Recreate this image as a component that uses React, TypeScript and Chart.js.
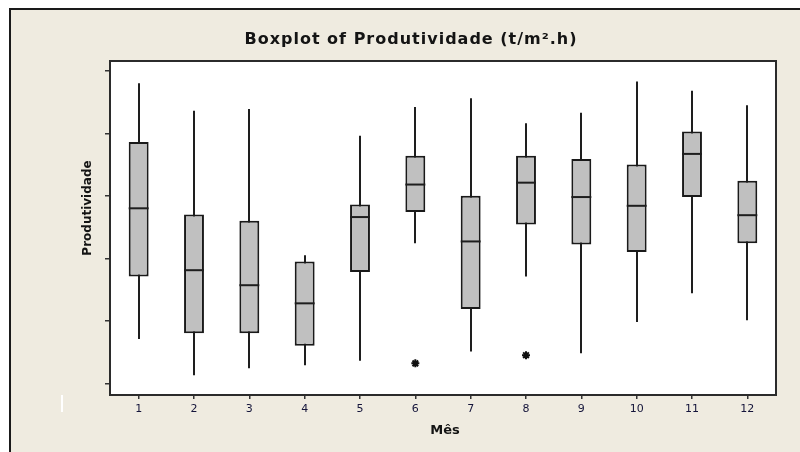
import React, { useEffect, useRef } from "react";
import { Chart, registerables } from "chart.js";

Chart.register(...registerables);

const months = ["1", "2", "3", "4", "5", "6", "7", "8", "9", "10", "11", "12"];
const whiskerHigh = [4.8, 4.36, 4.39, 2.05, 3.96, 4.42, 4.56, 4.16, 4.33, 4.83, 4.68, 4.45];
const q3 = [3.86, 2.7, 2.6, 1.95, 2.86, 3.64, 3.0, 3.64, 3.59, 3.5, 4.03, 3.24];
const medians = [2.8, 1.81, 1.57, 1.28, 2.66, 3.18, 2.27, 3.21, 2.98, 2.84, 3.67, 2.69];
const q1 = [1.71, 0.8, 0.8, 0.6, 1.78, 2.74, 1.19, 2.54, 2.22, 2.1, 2.98, 2.24];
const whiskerLow = [0.71, 0.13, 0.24, 0.29, 0.36, 2.24, 0.51, 1.71, 0.48, 0.98, 1.44, 1.01];
const outliers: (number | null)[] = [null, null, null, null, null, 0.32, null, 0.45, null, null, null, null];
const yTicks = [0, 1, 2, 3, 4, 5];
const yMin = -0.17;
const yMax = 5.14;

const chartTitle = "Boxplot of Produtividade (t/m².h)";
const xTitle = "Mês";
const yTitle = "Produtividade";

const FONT = "'DejaVu Sans', Tahoma, sans-serif";

const boxPlugin = {
  id: "boxDecor",
  beforeDraw(chart: any) {
    const { ctx, width, height, chartArea: a } = chart;
    ctx.save();
    ctx.fillStyle = "#ffffff";
    ctx.fillRect(0, 0, width, height);
    ctx.fillStyle = "#EFEBE0";
    ctx.fillRect(9, 8, width - 9, height - 8);
    ctx.fillStyle = "#1a1a1a";
    ctx.fillRect(9, 8, 2, height - 8);
    ctx.fillRect(9, 8, width - 9, 2);
    ctx.fillStyle = "#ffffff";
    ctx.fillRect(a.left, a.top, a.right - a.left, a.bottom - a.top);
    ctx.fillRect(61, 395, 2, 17);
    ctx.restore();
  },
  beforeDatasetsDraw(chart: any) {
    const { ctx } = chart;
    const xs = chart.scales.x;
    const ys = chart.scales.y;
    ctx.save();
    ctx.strokeStyle = "#1e1e1e";
    ctx.lineWidth = 2;
    for (let i = 0; i < months.length; i++) {
      const px = Math.round(xs.getPixelForValue(i));
      ctx.beginPath();
      ctx.moveTo(px, ys.getPixelForValue(whiskerHigh[i]));
      ctx.lineTo(px, ys.getPixelForValue(whiskerLow[i]));
      ctx.stroke();
    }
    ctx.restore();
  },
  afterDatasetsDraw(chart: any) {
    const { ctx, chartArea: a } = chart;
    const ys = chart.scales.y;
    const meta = chart.getDatasetMeta(0);
    ctx.save();
    ctx.strokeStyle = "#1e1e1e";
    ctx.lineWidth = 2;
    meta.data.forEach((bar: any, i: number) => {
      const py = ys.getPixelForValue(medians[i]);
      ctx.beginPath();
      ctx.moveTo(bar.x - bar.width / 2, py);
      ctx.lineTo(bar.x + bar.width / 2, py);
      ctx.stroke();
    });
    ctx.strokeStyle = "#2b2b2b";
    ctx.lineWidth = 2;
    ctx.strokeRect(a.left - 1, a.top - 1, a.right - a.left + 2, a.bottom - a.top + 2);
    ctx.restore();
  },
  afterDraw(chart: any) {
    const { ctx } = chart;
    ctx.save();
    ctx.fillStyle = "#141414";
    ctx.textAlign = "center";
    ctx.textBaseline = "middle";
    ctx.font = `bold 16px ${FONT}`;
    try { (ctx as any).letterSpacing = "1px"; } catch (e) {}
    ctx.fillText(chartTitle, 411, 40);
    try { (ctx as any).letterSpacing = "0px"; } catch (e) {}
    ctx.font = `bold 13px ${FONT}`;
    ctx.fillText(xTitle, 445, 431);
    ctx.translate(88, 208);
    ctx.rotate(-Math.PI / 2);
    ctx.font = `bold 12px ${FONT}`;
    ctx.fillText(yTitle, 0, 0);
    ctx.restore();
  },
};

export default function App() {
  const ref = useRef<HTMLCanvasElement | null>(null);
  useEffect(() => {
    if (!ref.current) return;
    const boxes = months.map((_, i) => [q1[i], q3[i]]);
    const chart = new Chart(ref.current, {
      type: "bar",
      data: {
        labels: months,
        datasets: [
          {
            type: "bar",
            data: boxes as any,
            backgroundColor: "#C0C0C0",
            borderColor: "#1a1a1a",
            borderWidth: 2,
            borderSkipped: false,
            barPercentage: 0.36,
            categoryPercentage: 1,
          } as any,
          {
            type: "line",
            data: outliers as any,
            showLine: false,
            pointStyle: "star",
            pointRadius: 4,
            pointBorderColor: "#111",
            pointBorderWidth: 2,
            pointBackgroundColor: "#111",
          } as any,
        ],
      },
      options: {
        animation: false,
        responsive: true,
        maintainAspectRatio: false,
        layout: { padding: { left: 0, top: 62, right: 25, bottom: 0 } },
        plugins: { legend: { display: false }, tooltip: { enabled: false }, title: { display: false } },
        scales: {
          x: {
            type: "category",
            offset: true,
            grid: { offset: false, drawOnChartArea: false, drawTicks: true, tickLength: 5, color: "#333", lineWidth: 1.5 },
            border: { display: false },
            ticks: { color: "#14143a", font: { family: FONT, size: 11 }, padding: 4, maxRotation: 0 },
            afterFit: (s: any) => {
              s.height = 58;
            },
          },
          y: {
            type: "linear",
            min: yMin,
            max: yMax,
            grid: { drawOnChartArea: false, drawTicks: true, tickLength: 6, color: "#333", lineWidth: 1.5 },
            border: { display: false },
            ticks: { display: false, includeBounds: false },
            afterBuildTicks: (s: any) => {
              s.ticks = yTicks.map((v) => ({ value: v }));
            },
            afterFit: (s: any) => {
              s.width = 111;
            },
          },
        },
      },
      plugins: [boxPlugin],
    });
    return () => chart.destroy();
  }, []);
  return (
    <div style={{ position: "fixed", left: 0, top: 0, width: 800, height: 452 }}>
      <canvas ref={ref} />
    </div>
  );
}
